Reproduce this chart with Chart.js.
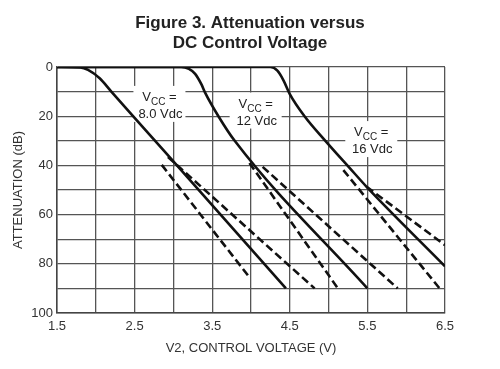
<!DOCTYPE html>
<html>
<head>
<meta charset="utf-8">
<script src="https://cdn.jsdelivr.net/npm/chart.js@4.4.0/dist/chart.umd.min.js"></script>
<style>
  html, body { margin: 0; padding: 0; background: #fff; }
  #wrap { width: 500px; height: 369px; }
</style>
</head>
<body>
<div id="wrap"><canvas id="chart" width="500" height="369"></canvas></div>
<script>
// control voltage (V) / attenuation (dB)
const v8Main = [1.5, 1.8, 1.9, 2.05, 2.2, 2.48, 2.9, 4.45];
const a8Main = [0, 0.2, 1.2, 4.6, 10, 20, 34.8, 90];
const v8Low = [2.85, 3.98];
const a8Low = [39.8, 85.5];
const v8High = [2.93, 4.82];
const a8High = [36.6, 90];

const v12Main = [1.5, 3.1, 3.2, 3.28, 3.36, 3.41, 3.58, 3.79, 5.5];
const a12Main = [0, 0, 0.8, 2.8, 7, 10.5, 20, 30, 90];
const v12Low = [3.98, 5.12];
const a12Low = [39, 90];
const v12High = [4.15, 5.89];
const a12High = [40.6, 90];

const v16Main = [1.5, 4.25, 4.34, 4.42, 4.5, 4.69, 4.95, 5.27, 5.49, 6.5];
const a16Main = [0, 0, 1.5, 5.5, 11, 20, 29.7, 41, 48.7, 81];
const v16Low = [5.19, 6.43];
const a16Low = [41.9, 90];
const v16High = [5.49, 6.5];
const a16High = [48.7, 72.4];

const titleLines = ["Figure 3. Attenuation versus", "DC Control Voltage"];
const curveLabels = ["8.0 Vdc", "12 Vdc", "16 Vdc"];
const labelAt = [[2.82, 15], [4.06, 17.7], [5.55, 29.3]];

const zip = (xs, ys) => xs.map((x, i) => ({ x: x, y: ys[i] }));

const solid = (xs, ys) => ({
  data: zip(xs, ys),
  borderColor: "#111",
  borderWidth: 2.6,
  pointRadius: 0,
  fill: false,
  cubicInterpolationMode: "monotone"
});

const dashed = (xs, ys) => ({
  data: zip(xs, ys),
  borderColor: "#111",
  borderWidth: 2.6,
  borderDash: [8, 4],
  pointRadius: 0,
  fill: false
});

const FONT = '"Liberation Sans", Arial, sans-serif';

// two-line title centred on the whole canvas
const titlePlugin = {
  id: "pageTitle",
  afterDraw(chart) {
    const ctx = chart.ctx;
    ctx.save();
    ctx.fillStyle = "#222";
    ctx.font = "bold 17px " + FONT;
    ctx.textAlign = "center";
    ctx.textBaseline = "middle";
    ctx.fillText(titleLines[0], chart.width / 2, 23);
    ctx.fillText(titleLines[1], chart.width / 2, 43);
    ctx.restore();
  }
};

// VCC = ... labels with a white box that cuts the grid
const curveLabelPlugin = {
  id: "curveLabels",
  beforeDatasetsDraw(chart) {
    const { ctx, scales: { x, y } } = chart;
    ctx.save();
    labelAt.forEach((pos, i) => {
      const px = x.getPixelForValue(pos[0]);
      const py = y.getPixelForValue(pos[1]);
      ctx.fillStyle = "#fff";
      ctx.fillRect(px - 26, py - 18, 52, 36);

      ctx.fillStyle = "#222";
      ctx.textBaseline = "alphabetic";
      ctx.textAlign = "left";
      ctx.font = "13px " + FONT;
      const wV = ctx.measureText("V").width;
      const wEq = ctx.measureText(" =").width;
      ctx.font = "10px " + FONT;
      const wCC = ctx.measureText("CC").width;
      let sx = px - (wV + wCC + wEq) / 2;
      ctx.font = "13px " + FONT;
      ctx.fillText("V", sx, py - 3);
      ctx.font = "10px " + FONT;
      ctx.fillText("CC", sx + wV, py + 1);
      ctx.font = "13px " + FONT;
      ctx.fillText(" =", sx + wV + wCC, py - 3);

      ctx.textAlign = "center";
      ctx.fillText(curveLabels[i], px + 1, py + 14);
    });
    ctx.restore();
  }
};

new Chart(document.getElementById("chart"), {
  type: "line",
  data: {
    datasets: [
      solid(v8Main, a8Main), dashed(v8Low, a8Low), dashed(v8High, a8High),
      solid(v12Main, a12Main), dashed(v12Low, a12Low), dashed(v12High, a12High),
      solid(v16Main, a16Main), dashed(v16Low, a16Low), dashed(v16High, a16High)
    ]
  },
  options: {
    responsive: false,
    animation: false,
    layout: { padding: { left: 0, right: 55, top: 67, bottom: 0 } },
    plugins: {
      legend: { display: false },
      tooltip: { enabled: false },
      title: { display: false }
    },
    scales: {
      x: {
        type: "linear",
        min: 1.5,
        max: 6.5,
        afterFit: (s) => { s.height = 56; },
        ticks: {
          stepSize: 0.5,
          autoSkip: false,
          maxRotation: 0,
          padding: 6,
          color: "#333",
          font: { family: FONT, size: 13 },
          callback: (v) => Math.abs((v - 1.5) % 1) < 1e-6 ? v.toFixed(1) : ""
        },
        grid: { color: "#555", lineWidth: 1.3, drawTicks: false },
        border: { color: "#444", width: 1.5 },
        title: {
          display: true,
          text: "V2, CONTROL VOLTAGE (V)",
          color: "#333",
          font: { family: FONT, size: 13 },
          padding: { top: 0, bottom: 13 }
        }
      },
      y: {
        type: "linear",
        reverse: true,
        min: 0,
        max: 100,
        afterFit: (s) => { s.width = 57; },
        ticks: {
          stepSize: 10,
          padding: 4,
          color: "#333",
          font: { family: FONT, size: 13 },
          callback: (v) => v % 20 === 0 ? v : ""
        },
        grid: { color: "#555", lineWidth: 1.3, drawTicks: false },
        border: { color: "#444", width: 1.5 },
        title: {
          display: true,
          text: "ATTENUATION (dB)",
          color: "#333",
          font: { family: FONT, size: 13 },
          padding: { top: 11, bottom: 0 }
        }
      }
    }
  },
  plugins: [curveLabelPlugin, titlePlugin]
});
</script>
</body>
</html>
